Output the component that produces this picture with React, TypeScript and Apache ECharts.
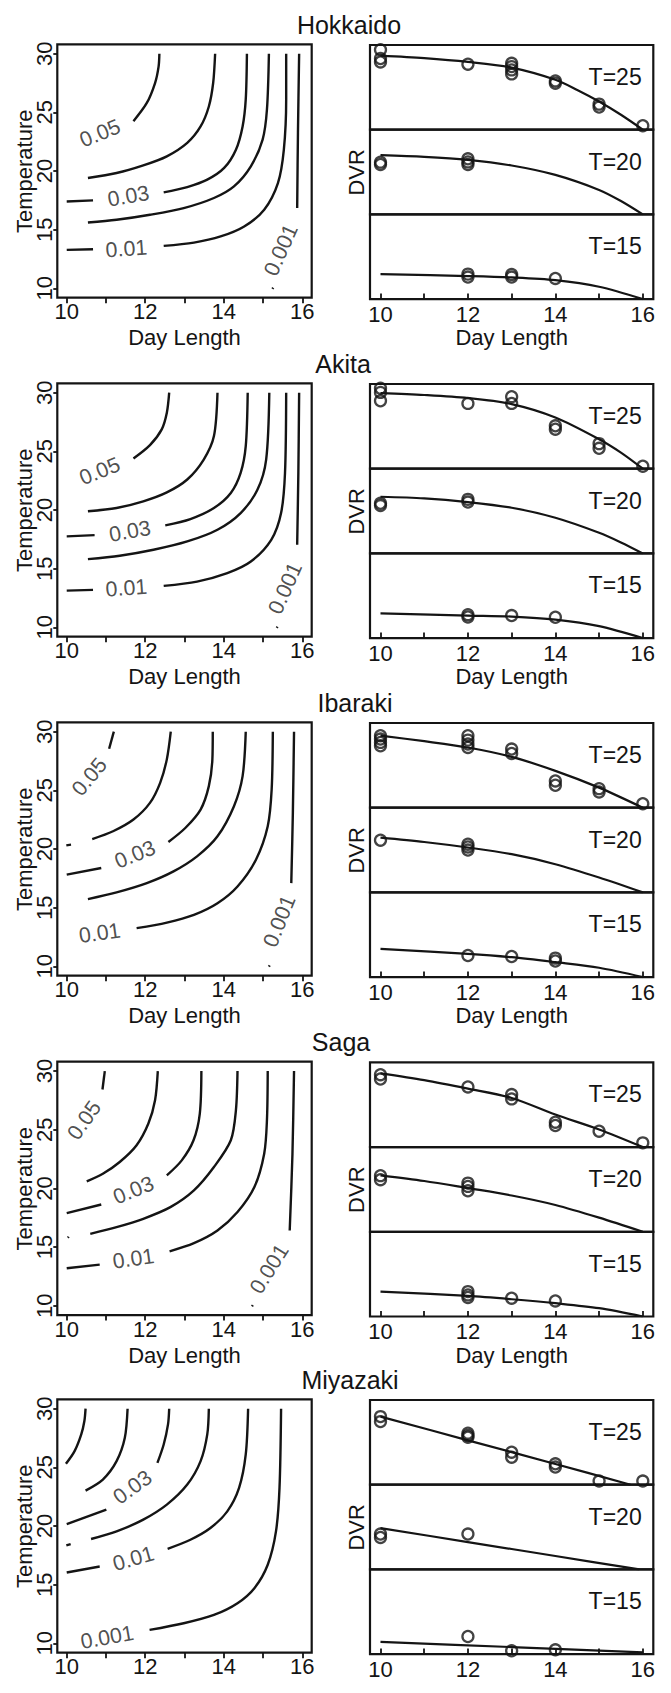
import React, { useEffect, useRef } from "react";
import * as echarts from "echarts";

// ---------- axis / label constants ----------
const SITES = ["Hokkaido", "Akita", "Ibaraki", "Saga", "Miyazaki"];
const DAY_TICKS = [10, 11, 12, 13, 14, 15, 16];
const DAY_LABELS = [10, 12, 14, 16];
const TEMP_TICKS = [10, 15, 20, 25, 30];
const PANEL_TEMPS = ["T=25", "T=20", "T=15"];
const DAY_MIN = 9.76;
const DAY_MAX = 16.24;
const TEMP_MIN = 9.2;
const TEMP_MAX = 30.8;

// ---------- contour lines (day length, temperature) ----------
const hokkaidoContours = [
  [[11.7, 24.25], [12.04, 25.8], [12.25, 27.5], [12.34, 28.9], [12.36, 30.0]],
  [[10.54, 19.4], [11.27, 19.83], [11.95, 20.48], [12.55, 21.25], [13.07, 22.4], [13.41, 23.8], [13.62, 25.5], [13.73, 27.5], [13.78, 30.0]],
  [[10.0, 17.4], [10.67, 17.5]],
  [[12.47, 18.18], [13.07, 18.63], [13.58, 19.26], [14.01, 20.26], [14.31, 21.82], [14.48, 23.8], [14.56, 26.1], [14.59, 30.0]],
  [[10.54, 15.61], [11.27, 15.84], [12.12, 16.27], [12.98, 16.84], [13.75, 17.7], [14.26, 18.69], [14.69, 20.4], [14.99, 22.68], [15.1, 25.24], [15.15, 30.0]],
  [[10.0, 13.28], [10.67, 13.33]],
  [[12.47, 13.62], [13.24, 13.9], [13.92, 14.42], [14.52, 15.27], [15.03, 16.7], [15.38, 18.97], [15.53, 21.8], [15.59, 26.1], [15.59, 30.0]],
  [[15.87, 16.84], [15.89, 23.25], [15.92, 30.0]],
  [[15.24, 9.95], [15.26, 10.05]],
];
const hokkaidoContourLabels = [
  [10.85, 23.2, "0.05", 22],
  [11.57, 17.84, "0.03", 10],
  [11.52, 13.35, "0.01", 4],
  [15.46, 13.27, "0.001", 66],
];

const akitaContours = [
  [[11.7, 24.39], [12.12, 25.53], [12.42, 26.87], [12.55, 28.29], [12.61, 30.0]],
  [[10.54, 19.89], [11.27, 20.17], [11.95, 20.74], [12.55, 21.5], [13.07, 22.6], [13.49, 24.3], [13.75, 26.3], [13.84, 30.0]],
  [[10.0, 17.75], [10.71, 17.86]],
  [[12.51, 18.69], [13.15, 19.23], [13.75, 20.17], [14.18, 21.45], [14.43, 23.16], [14.56, 25.44], [14.61, 30.0]],
  [[10.54, 15.81], [11.35, 16.1], [12.21, 16.61], [13.07, 17.32], [13.84, 18.32], [14.43, 19.74], [14.86, 21.74], [15.08, 24.3], [15.16, 30.0]],
  [[10.0, 13.13], [10.67, 13.19]],
  [[12.47, 13.53], [13.32, 13.9], [14.09, 14.62], [14.69, 15.61], [15.21, 17.46], [15.46, 19.74], [15.56, 23.16], [15.59, 30.0]],
  [[15.87, 17.04], [15.9, 23.16], [15.92, 30.0]],
  [[15.35, 9.95], [15.37, 10.05]],
];
const akitaContourLabels = [
  [10.84, 23.3, "0.05", 22],
  [11.61, 18.18, "0.03", 10],
  [11.52, 13.33, "0.01", 4],
  [15.57, 13.33, "0.001", 66],
];

const ibarakiContours = [
  [[11.08, 28.55], [11.2, 30.0]],
  [[9.99, 20.31], [10.11, 20.37]],
  [[10.65, 20.85], [11.18, 21.51], [11.7, 22.51], [12.12, 23.93], [12.38, 25.64], [12.55, 27.64], [12.65, 30.0]],
  [[10.0, 17.81], [10.88, 18.38]],
  [[12.59, 20.6], [13.02, 21.79], [13.41, 23.36], [13.62, 25.36], [13.71, 27.64], [13.72, 30.0]],
  [[10.54, 15.73], [11.27, 16.3], [12.04, 17.09], [12.72, 18.09], [13.32, 19.37], [13.84, 21.08], [14.26, 23.65], [14.48, 26.21], [14.56, 30.0]],
  [[11.78, 13.25], [12.55, 13.73], [13.24, 14.39], [13.84, 15.38], [14.35, 16.81], [14.82, 19.09], [15.12, 21.94], [15.22, 25.07], [15.25, 30.0]],
  [[15.72, 17.09], [15.76, 23.08], [15.79, 30.0]],
  [[15.15, 9.98], [15.17, 10.08]],
];
const ibarakiContourLabels = [
  [10.58, 26.15, "0.05", 50],
  [11.74, 19.52, "0.03", 22],
  [10.84, 12.82, "0.01", 8],
  [15.42, 13.85, "0.001", 68],
];

const sagaContours = [
  [[10.91, 28.43], [10.97, 30.0]],
  [[10.51, 20.6], [10.92, 21.25], [11.35, 22.25], [11.78, 23.68], [12.08, 25.53], [12.25, 27.52], [12.32, 30.0]],
  [[10.0, 17.89], [10.88, 18.63]],
  [[12.55, 21.11], [12.93, 22.39], [13.23, 24.1], [13.39, 26.38], [13.43, 30.0]],
  [[10.03, 15.8], [10.05, 15.88]],
  [[10.6, 16.13], [11.27, 16.7], [11.95, 17.41], [12.64, 18.4], [13.24, 19.83], [13.75, 21.82], [14.18, 24.1], [14.31, 26.67], [14.35, 30.0]],
  [[10.0, 13.19], [10.84, 13.5]],
  [[12.62, 14.64], [13.24, 15.33], [13.84, 16.41], [14.35, 17.98], [14.78, 20.11], [15.03, 22.96], [15.1, 25.81], [15.12, 30.0]],
  [[15.68, 16.41], [15.75, 22.96], [15.79, 30.0]],
  [[14.72, 9.95], [14.74, 10.05]],
];
const sagaContourLabels = [
  [10.45, 25.81, "0.05", 55],
  [11.7, 19.83, "0.03", 22],
  [11.7, 13.99, "0.01", 8],
  [15.16, 13.13, "0.001", 58],
];

const miyazakiContours = [
  [[9.98, 25.3], [10.2, 26.38], [10.37, 27.81], [10.45, 28.95], [10.48, 30.0]],
  [[10.48, 23.02], [10.92, 23.96], [11.27, 25.53], [11.48, 27.52], [11.55, 30.0]],
  [[10.0, 20.17], [11.01, 21.4]],
  [[12.31, 25.38], [12.47, 26.95], [12.58, 28.66], [12.61, 30.0]],
  [[9.99, 18.35], [10.1, 18.46]],
  [[10.62, 18.89], [11.27, 19.54], [11.95, 20.54], [12.55, 21.82], [13.07, 23.53], [13.41, 25.53], [13.58, 27.81], [13.62, 30.0]],
  [[10.0, 16.04], [10.84, 16.55]],
  [[12.57, 18.06], [13.15, 18.83], [13.66, 19.83], [14.09, 21.25], [14.39, 23.25], [14.56, 26.1], [14.62, 30.0]],
  [[12.11, 11.14], [12.98, 11.71], [13.75, 12.42], [14.35, 13.42], [14.78, 14.7], [15.12, 16.7], [15.33, 19.54], [15.42, 23.25], [15.46, 30.0]],
];
const miyazakiContourLabels = [
  [11.68, 23.3, "0.03", 36],
  [11.7, 17.21, "0.01", 16],
  [11.03, 10.5, "0.001", 10],
];

// ---------- DVR panels (relative DVR, 0 = panel bottom, 1 = panel top) ----------
const hokkaidoFitT25 = [[10, 0.875], [11, 0.845], [12, 0.8], [13, 0.733], [14, 0.59], [14.5, 0.47], [15, 0.333], [15.5, 0.176], [16, 0]];
const hokkaidoObsT25 = [[10, 0.945], [10, 0.84], [10, 0.8], [12, 0.773], [13, 0.784], [13, 0.745], [13, 0.706], [13, 0.659], [14, 0.576], [14, 0.549], [15, 0.302], [15, 0.267], [16, 0.047]];
const hokkaidoFitT20 = [[10, 0.7], [11, 0.68], [12, 0.644], [13, 0.577], [14, 0.466], [15, 0.289], [15.5, 0.158], [16, 0]];
const hokkaidoObsT20 = [[10, 0.617], [10, 0.59], [12, 0.656], [12, 0.62], [12, 0.59]];
const hokkaidoFitT15 = [[10, 0.295], [12, 0.272], [13, 0.256], [14, 0.224], [15, 0.146], [16, 0]];
const hokkaidoObsT15 = [[12, 0.295], [12, 0.26], [13, 0.291], [13, 0.26], [14, 0.244]];

const akitaFitT25 = [[10, 0.893], [11, 0.87], [12, 0.834], [13, 0.763], [14, 0.605], [15, 0.348], [15.5, 0.19], [16, 0]];
const akitaObsT25 = [[10, 0.949], [10, 0.901], [10, 0.802], [12, 0.771], [13, 0.85], [13, 0.771], [14, 0.506], [14, 0.466], [15, 0.296], [15, 0.241], [16, 0.03]];
const akitaFitT20 = [[10, 0.669], [11, 0.65], [12, 0.606], [13, 0.539], [14, 0.421], [15, 0.244], [15.5, 0.13], [16, 0]];
const akitaObsT20 = [[10, 0.591], [10, 0.565], [12, 0.638], [12, 0.606]];
const akitaFitT15 = [[10, 0.293], [12, 0.266], [13, 0.254], [14, 0.219], [15, 0.141], [16, 0]];
const akitaObsT15 = [[12, 0.277], [12, 0.25], [13, 0.266], [14, 0.246]];

const ibarakiFitT25 = [[10, 0.85], [11, 0.785], [12, 0.711], [13, 0.6], [14, 0.435], [15, 0.237], [16, 0]];
const ibarakiObsT25 = [[10, 0.85], [10, 0.81], [10, 0.771], [10, 0.731], [12, 0.85], [12, 0.798], [12, 0.751], [12, 0.711], [13, 0.692], [13, 0.64], [14, 0.316], [14, 0.265], [15, 0.225], [15, 0.186], [16, 0.047]];
const ibarakiFitT20 = [[10, 0.647], [11, 0.595], [12, 0.53], [13, 0.451], [14, 0.333], [15, 0.176], [16, 0]];
const ibarakiObsT20 = [[10, 0.616], [12, 0.569], [12, 0.537], [12, 0.5]];
const ibarakiFitT15 = [[10, 0.333], [12, 0.275], [13, 0.235], [14, 0.176], [15, 0.11], [16, 0]];
const ibarakiObsT15 = [[12, 0.255], [13, 0.243], [14, 0.224], [14, 0.19]];

const sagaFitT25 = [[10, 0.87], [11, 0.79], [12, 0.69], [13, 0.58], [14, 0.384], [15, 0.208], [16, 0]];
const sagaObsT25 = [[10, 0.855], [10, 0.804], [12, 0.71], [13, 0.62], [13, 0.569], [14, 0.294], [14, 0.255], [15, 0.188], [16, 0.05]];
const sagaFitT20 = [[10, 0.667], [11, 0.6], [12, 0.516], [13, 0.429], [14, 0.317], [15, 0.167], [16, 0]];
const sagaObsT20 = [[10, 0.663], [10, 0.615], [12, 0.575], [12, 0.536], [12, 0.484]];
const sagaFitT15 = [[10, 0.294], [12, 0.243], [13, 0.204], [14, 0.157], [15, 0.098], [16, 0]];
const sagaObsT15 = [[12, 0.294], [12, 0.255], [12, 0.225], [13, 0.216], [14, 0.184]];

const miyazakiFitT25 = [[10, 0.804], [12, 0.524], [14, 0.245], [15.72, 0]];
const miyazakiObsT25 = [[10, 0.804], [10, 0.745], [12, 0.608], [12, 0.58], [12, 0.561], [13, 0.384], [13, 0.325], [14, 0.247], [14, 0.208], [15, 0.043], [16, 0.043]];
const miyazakiFitT20 = [[10, 0.488], [12, 0.323], [14, 0.158], [15.92, 0]];
const miyazakiObsT20 = [[10, 0.417], [10, 0.377], [12, 0.417]];
const miyazakiFitT15 = [[10, 0.145], [13, 0.083], [16, 0.02]];
const miyazakiObsT15 = [[12, 0.208], [13, 0.039], [14, 0.051]];

const CONTOURS = [hokkaidoContours, akitaContours, ibarakiContours, sagaContours, miyazakiContours];
const CONTOUR_LABELS = [hokkaidoContourLabels, akitaContourLabels, ibarakiContourLabels, sagaContourLabels, miyazakiContourLabels];
const FITS = [
  [hokkaidoFitT25, hokkaidoFitT20, hokkaidoFitT15],
  [akitaFitT25, akitaFitT20, akitaFitT15],
  [ibarakiFitT25, ibarakiFitT20, ibarakiFitT15],
  [sagaFitT25, sagaFitT20, sagaFitT15],
  [miyazakiFitT25, miyazakiFitT20, miyazakiFitT15],
];
const OBS = [
  [hokkaidoObsT25, hokkaidoObsT20, hokkaidoObsT15],
  [akitaObsT25, akitaObsT20, akitaObsT15],
  [ibarakiObsT25, ibarakiObsT20, ibarakiObsT15],
  [sagaObsT25, sagaObsT20, sagaObsT15],
  [miyazakiObsT25, miyazakiObsT20, miyazakiObsT15],
];

// ---------- layout ----------
const ROW_TOPS = [44.3, 383.3, 722.3, 1061.7, 1399.3];
const TITLE_X = [349, 343, 355, 341, 350];
const FONT = '"Liberation Sans", Arial, Helvetica, sans-serif';
const INK = "#141414";
const L_LEFT = 57.3;
const L_WIDTH = 254.4;
const L_HEIGHT = 253.4;
const R_LEFT = 370;
const R_WIDTH = 283.3;
const R_PANEL = 84.7;

function text(x: number, y: number, str: string, size: number, opts: any = {}) {
  return {
    type: "text",
    x,
    y,
    rotation: opts.rotation || 0,
    silent: true,
    style: {
      text: str,
      fontSize: size,
      fontFamily: FONT,
      fill: INK,
      align: opts.align || "center",
      verticalAlign: "middle",
    },
  };
}

function buildOption() {
  const grid: any[] = [];
  const xAxis: any[] = [];
  const yAxis: any[] = [];
  const series: any[] = [];
  const elements: any[] = [];

  const tickStyle = { color: INK, width: 1.8 };
  const labelBase = { color: INK, fontFamily: FONT, fontSize: 22 };

  SITES.forEach((site, r) => {
    const top = ROW_TOPS[r];
    const gi = r * 4;

    // ---- left contour panel ----
    grid.push({
      left: L_LEFT, top, width: L_WIDTH, height: L_HEIGHT,
      show: true, borderColor: INK, borderWidth: 2.2, backgroundColor: "transparent",
    });
    xAxis.push({
      gridIndex: gi, type: "value", min: DAY_MIN, max: DAY_MAX,
      axisLine: { show: false, onZero: false },
      splitLine: { show: false },
      axisTick: { show: true, customValues: DAY_TICKS, length: 5.5, lineStyle: tickStyle },
      axisLabel: { show: true, customValues: DAY_LABELS, margin: 3, ...labelBase },
    });
    yAxis.push({
      gridIndex: gi, type: "value", min: TEMP_MIN, max: TEMP_MAX,
      axisLine: { show: false, onZero: false },
      splitLine: { show: false },
      axisTick: { show: true, customValues: TEMP_TICKS, length: 4, lineStyle: tickStyle },
      axisLabel: { show: true, customValues: TEMP_TICKS, rotate: 90, margin: 2, ...labelBase },
    });
    CONTOURS[r].forEach((seg) => {
      series.push({
        type: "line", xAxisIndex: gi, yAxisIndex: gi, data: seg,
        symbol: "none", showSymbol: false, smooth: 0.3, silent: true,
        lineStyle: { color: INK, width: 2.4 },
      });
    });
    series.push({
      type: "scatter", xAxisIndex: gi, yAxisIndex: gi, symbolSize: 1, silent: true,
      itemStyle: { color: "rgba(0,0,0,0)" },
      label: { show: true, position: "inside", formatter: "{b}", fontSize: 21.5, color: "#222", fontFamily: FONT },
      data: CONTOUR_LABELS[r].map((l: any) => ({
        name: l[2], value: [l[0], l[1]], label: { rotate: l[3] },
      })),
    });

    // ---- right DVR panels ----
    for (let k = 0; k < 3; k++) {
      const idx = gi + 1 + k;
      const ptop = top + 0.7 + k * R_PANEL;
      grid.push({
        left: R_LEFT, top: ptop, width: R_WIDTH, height: R_PANEL,
        show: true, borderColor: INK, borderWidth: 2.2, backgroundColor: "transparent",
      });
      const bottom = k === 2;
      xAxis.push({
        gridIndex: idx, type: "value", min: DAY_MIN, max: DAY_MAX, show: bottom,
        axisLine: { show: false, onZero: false },
        splitLine: { show: false },
        axisTick: { show: bottom, inside: true, customValues: DAY_TICKS, length: 5.5, lineStyle: tickStyle },
        axisLabel: { show: bottom, customValues: DAY_LABELS, margin: 4, ...labelBase },
      });
      yAxis.push({ gridIndex: idx, type: "value", min: 0, max: 1, show: false, splitLine: { show: false } });
      series.push({
        type: "line", xAxisIndex: idx, yAxisIndex: idx, data: FITS[r][k],
        symbol: "none", showSymbol: false, smooth: 0.3, silent: true,
        lineStyle: { color: INK, width: 2.2 },
      });
      series.push({
        type: "scatter", xAxisIndex: idx, yAxisIndex: idx, data: OBS[r][k],
        symbol: "circle", symbolSize: 11, clip: false, silent: true,
        itemStyle: { color: "rgba(0,0,0,0)", borderColor: INK, borderWidth: 2.3 },
      });
      elements.push(text(641.7, ptop + 32, PANEL_TEMPS[k], 23, { align: "right" }));
    }

    // ---- titles ----
    elements.push(text(TITLE_X[r], top - 19.5, site, 25));
    elements.push(text(24, top + 127, "Temperature", 22, { rotation: Math.PI / 2 }));
    elements.push(text(356.7, top + 128, "DVR", 22, { rotation: Math.PI / 2 }));
    if (r < SITES.length - 1) {
      elements.push(text(184.5, top + 293.5, "Day Length", 22));
      elements.push(text(511.7, top + 293.5, "Day Length", 22));
    }
  });

  return {
    animation: false,
    backgroundColor: "#ffffff",
    grid, xAxis, yAxis, series,
    graphic: { elements },
  };
}

export default function App() {
  const ref = useRef<HTMLDivElement>(null);
  useEffect(() => {
    document.body.style.margin = "0";
    if (!ref.current) return;
    const chart = echarts.init(ref.current, undefined, { renderer: "svg" });
    chart.setOption(buildOption() as any);
    return () => chart.dispose();
  }, []);
  return <div ref={ref} style={{ width: 671, height: 1693 }} />;
}
